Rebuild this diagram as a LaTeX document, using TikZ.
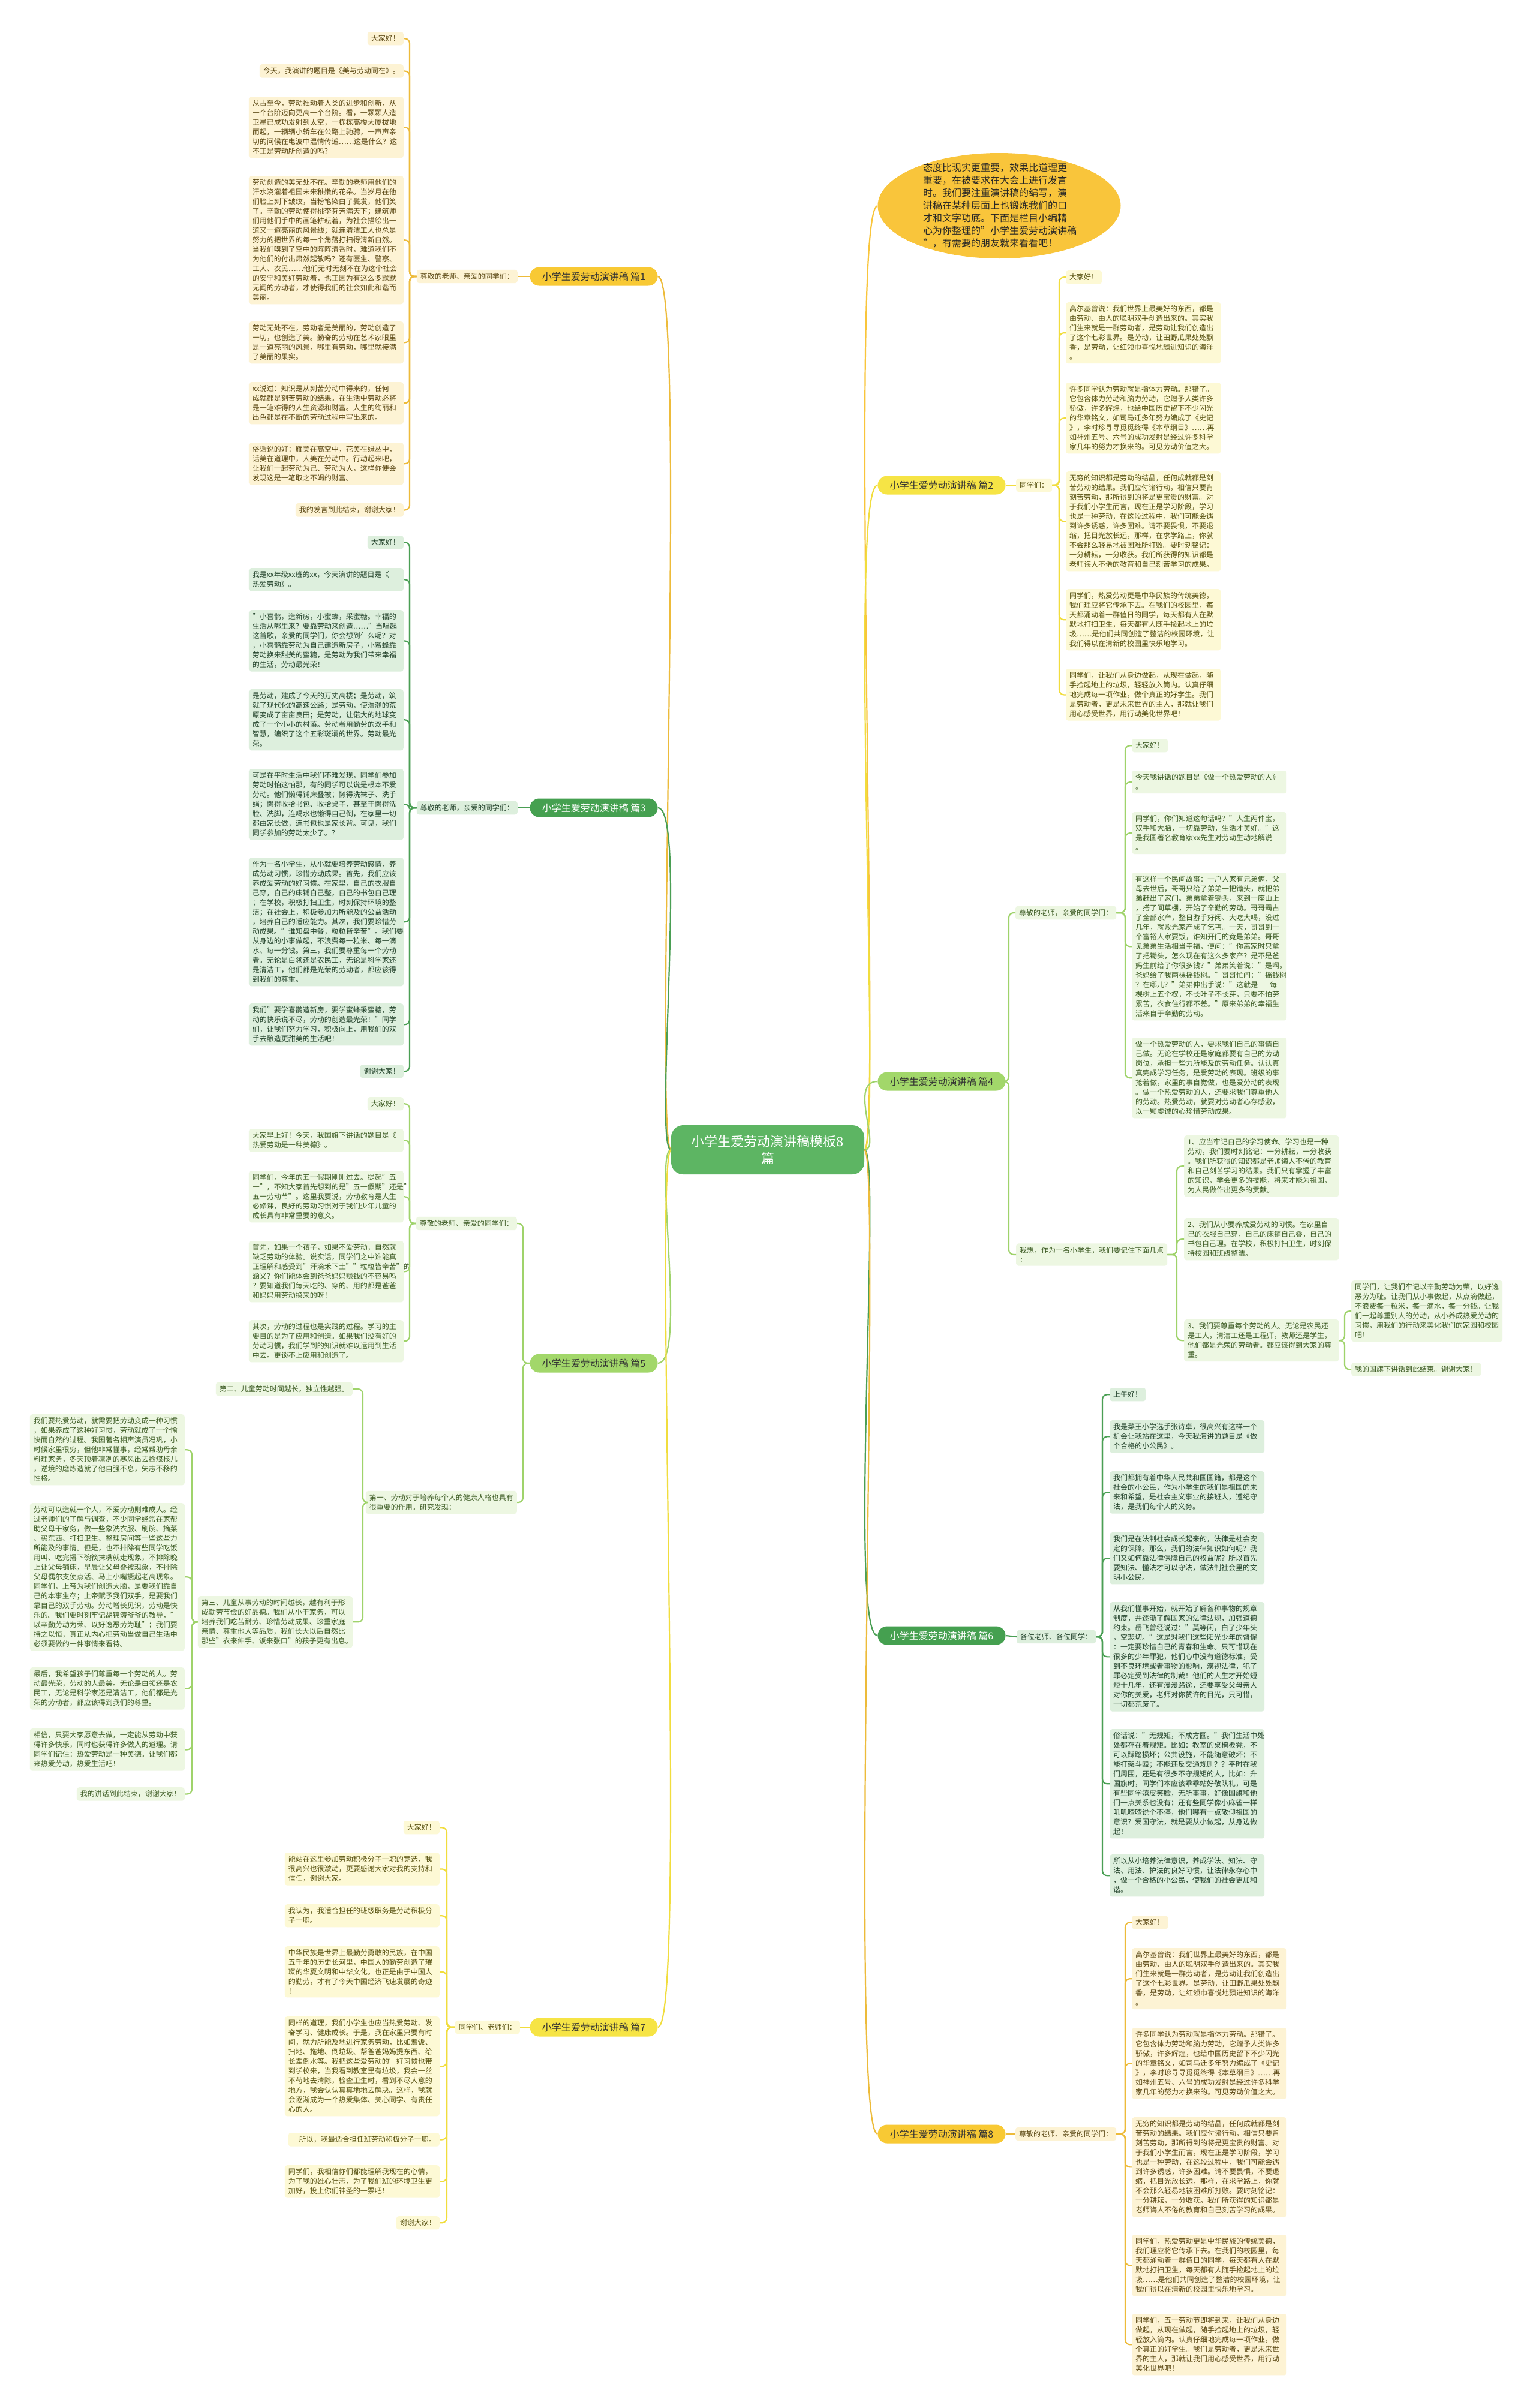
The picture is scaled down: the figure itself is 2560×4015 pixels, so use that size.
\documentclass[tikz,border=0pt]{standalone}
\usepackage{fontspec}
\setmainfont{Noto Sans CJK SC}
\usetikzlibrary{shapes.geometric}
\definecolor{goldline}{HTML}{EDBB3A}
\definecolor{goldnode}{HTML}{F8C934}
\definecolor{goldbox}{HTML}{FDF3D4}
\definecolor{goldtext}{HTML}{5A4713}
\definecolor{yelline}{HTML}{F1DD3D}
\definecolor{yelnode}{HTML}{F6E445}
\definecolor{yelbox}{HTML}{FDF9D5}
\definecolor{yeltext}{HTML}{56500F}
\definecolor{dgline}{HTML}{4A9F54}
\definecolor{dgnode}{HTML}{45A050}
\definecolor{dgbox}{HTML}{DDEFDD}
\definecolor{dgtext}{HTML}{22422A}
\definecolor{lgline}{HTML}{9FD36B}
\definecolor{lgnode}{HTML}{A2D76A}
\definecolor{lgbox}{HTML}{EDF7E2}
\definecolor{lgtext}{HTML}{3B5A22}
\definecolor{rootc}{HTML}{5DB563}
\definecolor{bubc}{HTML}{F9C53B}
\newcommand\fs[2]{\fontsize{#1}{#2}\selectfont}
\newcommand\lconn[4]{\coordinate (tk) at (#2,0);\draw[#1] (#3.west) -- (#3.west -| tk) |- (#4.east);}
\newcommand\rconn[4]{\coordinate (tk) at (#2,0);\draw[#1] (#3.east) -- (#3.east -| tk) |- (#4.west);}
\tikzset{
  box/.style={rounded corners=4pt, inner xsep=6pt, inner ysep=5.5pt, align=left, font=\fs{12}{16}},
  wide/.style={text width=246pt},
  gb/.style={box, fill=goldbox, text=goldtext},
  yb/.style={box, fill=yelbox, text=yeltext},
  db/.style={box, fill=dgbox, text=dgtext},
  lb/.style={box, fill=lgbox, text=lgtext},
  con/.style={line width=2.2pt, rounded corners=8pt},
  gc/.style={con, draw=goldline},
  yc/.style={con, draw=yelline},
  dc/.style={con, draw=dgline},
  lc/.style={con, draw=lgline},
  branch/.style={rounded corners=15.5pt, minimum width=213pt, minimum height=31pt, inner sep=0pt, font=\fs{16}{20}, text=black!80},
  rootnode/.style={rounded corners=20pt, minimum width=322pt, minimum height=82pt, fill=rootc, text=white, align=center, font=\fs{22}{28}},
  curve/.style={line width=2.2pt},
}
\begin{document}
\begin{tikzpicture}[x=1pt,y=-1pt]
\useasboundingbox (0,0) rectangle (2560,4015);
\fill[white] (0,0) rectangle (2560,4015);

% ---------- root and branches ----------
\node[rootnode] (C) at (1280,1917) {小学生爱劳动演讲稿模板8\\篇};
\node[ellipse, fill=bubc, minimum width=405pt, minimum height=176pt, inner sep=0pt] (bub) at (1666,343) {};
\node[align=left, font=\fs{16}{21}, text=black!85] (bubt) at (1667,343) {态度比现实更重要，效果比道理更\\重要，在被要求在大会上进行发言\\时。我们要注重演讲稿的编写，演\\讲稿在某种层面上也锻炼我们的口\\才和文字功底。下面是栏目小编精\\心为你整理的"小学生爱劳动演讲稿\\"，有需要的朋友就来看看吧！};

\node[branch, fill=goldnode] (b1) at (990,461) {小学生爱劳动演讲稿 篇1};
\node[branch, fill=dgnode, text=white] (b3) at (990,1347) {小学生爱劳动演讲稿 篇3};
\node[branch, fill=lgnode] (b5) at (990,2273) {小学生爱劳动演讲稿 篇5};
\node[branch, fill=yelnode] (b7) at (990,3380) {小学生爱劳动演讲稿 篇7};
\node[branch, fill=yelnode] (b2) at (1570,809) {小学生爱劳动演讲稿 篇2};
\node[branch, fill=lgnode] (b4) at (1570,1803) {小学生爱劳动演讲稿 篇4};
\node[branch, fill=dgnode, text=white] (b6) at (1570,2727) {小学生爱劳动演讲稿 篇6};
\node[branch, fill=goldnode] (b8) at (1570,3558) {小学生爱劳动演讲稿 篇8};

\draw[curve, goldline] (C.west) .. controls +(-30,0) and +(50,0) .. (b1.east);
\draw[curve, dgline] (C.west) .. controls +(-30,0) and +(50,0) .. (b3.east);
\draw[curve, lgline] (C.west) .. controls +(-30,0) and +(50,0) .. (b5.east);
\draw[curve, yelline] (C.west) .. controls +(-30,0) and +(50,0) .. (b7.east);
\draw[curve, bubc] (C.east) .. controls +(30,0) and +(-50,0) .. (bub.west);
\draw[curve, yelline] (C.east) .. controls +(30,0) and +(-50,0) .. (b2.west);
\draw[curve, lgline] (C.east) .. controls +(30,0) and +(-50,0) .. (b4.west);
\draw[curve, dgline] (C.east) .. controls +(30,0) and +(-50,0) .. (b6.west);
\draw[curve, goldline] (C.east) .. controls +(30,0) and +(-50,0) .. (b8.west);

% ---------- 篇1 ----------
\node[gb, anchor=east] (L1) at (863,461) {尊敬的老师、亲爱的同学们：};
\draw[gc] (b1.west) -- (L1.east);
\node[gb, anchor=north east] (a1) at (673,53) {大家好！};
\node[gb, anchor=north east] (a2) at (673,107) {今天，我演讲的题目是《美与劳动同在》。};
\node[gb, wide, anchor=north east] (a3) at (673,161) {从古至今，劳动推动着人类的进步和创新，从\\一个台阶迈向更高一个台阶。看，一颗颗人造\\卫星已成功发射到太空，一栋栋高楼大厦拔地\\而起，一辆辆小轿车在公路上驰骋，一声声亲\\切的问候在电波中温情传递……这是什么？这\\不正是劳动所创造的吗？};
\node[gb, wide, anchor=north east] (a4) at (673,293) {劳动创造的美无处不在。辛勤的老师用他们的\\汗水浇灌着祖国未来稚嫩的花朵。当岁月在他\\们脸上刻下皱纹，当粉笔染白了鬓发，他们笑\\了。辛勤的劳动使得桃李芬芳满天下；建筑师\\们用他们手中的画笔耕耘着，为社会描绘出一\\道又一道亮丽的风景线；就连清洁工人也总是\\努力的把世界的每一个角落打扫得清新自然。\\当我们嗅到了空中的阵阵清香时，难道我们不\\为他们的付出肃然起敬吗？还有医生、警察、\\工人、农民……他们无时无刻不在为这个社会\\的安宁和美好劳动着，也正因为有这么多默默\\无闻的劳动者，才使得我们的社会如此和谐而\\美丽。};
\node[gb, wide, anchor=north east] (a5) at (673,536) {劳动无处不在，劳动者是美丽的，劳动创造了\\一切，也创造了美。勤奋的劳动在艺术家眼里\\是一道亮丽的风景，哪里有劳动，哪里就接满\\了美丽的果实。};
\node[gb, wide, anchor=north east] (a6) at (673,637) {xx说过：知识是从刻苦劳动中得来的，任何\\成就都是刻苦劳动的结果。在生活中劳动必将\\是一笔难得的人生资源和财富。人生的绚丽和\\出色都是在不断的劳动过程中写出来的。};
\node[gb, wide, anchor=north east] (a7) at (673,738) {俗话说的好：雁美在高空中，花美在绿丛中，\\话美在道理中，人美在劳动中。行动起来吧，\\让我们一起劳动为己、劳动为人，这样你便会\\发现这是一笔取之不竭的财富。};
\node[gb, anchor=north east] (a8) at (673,839) {我的发言到此结束，谢谢大家！};
\foreach \c in {a1,a2,a3,a4,a5,a6,a7,a8} {\lconn{gc}{683}{L1}{\c}}

% ---------- 篇3 ----------
\node[db, anchor=east] (L3) at (863,1347) {尊敬的老师，亲爱的同学们：};
\draw[dc] (b3.west) -- (L3.east);
\node[db, anchor=north east] (c1) at (673,893) {大家好！};
\node[db, wide, anchor=north east] (c2) at (673,947) {我是xx年级xx班的xx，今天演讲的题目是《\\热爱劳动》。};
\node[db, wide, anchor=north east] (c3) at (673,1017) {"小喜鹊，造新房，小蜜蜂，采蜜糖。幸福的\\生活从哪里来？要靠劳动来创造……"当唱起\\这首歌，亲爱的同学们，你会想到什么呢？对\\，小喜鹊靠劳动为自己建造新房子，小蜜蜂靠\\劳动换来甜美的蜜糖，是劳动为我们带来幸福\\的生活，劳动最光荣！};
\node[db, wide, anchor=north east] (c4) at (673,1149) {是劳动，建成了今天的万丈高楼；是劳动，筑\\就了现代化的高速公路；是劳动，使浩瀚的荒\\原变成了亩亩良田；是劳动，让偌大的地球变\\成了一个小小的村落。劳动者用勤劳的双手和\\智慧，编织了这个五彩斑斓的世界。劳动最光\\荣。};
\node[db, wide, anchor=north east] (c5) at (673,1282) {可是在平时生活中我们不难发现，同学们参加\\劳动时怕这怕那，有的同学可以说是根本不爱\\劳动。他们懒得铺床叠被；懒得洗袜子、洗手\\绢；懒得收拾书包、收拾桌子，甚至于懒得洗\\脸、洗脚，连喝水也懒得自己倒，在家里一切\\都由家长做，连书包也是家长背。可见，我们\\同学参加的劳动太少了。？};
\node[db, wide, anchor=north east] (c6) at (673,1430) {作为一名小学生，从小就要培养劳动感情，养\\成劳动习惯，珍惜劳动成果。首先，我们应该\\养成爱劳动的好习惯。在家里，自己的衣服自\\己穿，自己的床铺自己整，自己的书包自己理\\；在学校，积极打扫卫生，时刻保持环境的整\\洁；在社会上，积极参加力所能及的公益活动\\，培养自己的适应能力。其次，我们要珍惜劳\\动成果。"谁知盘中餐，粒粒皆辛苦"。我们要\\从身边的小事做起，不浪费每一粒米、每一滴\\水、每一分钱。第三，我们要尊重每一个劳动\\者。无论是白领还是农民工，无论是科学家还\\是清洁工，他们都是光荣的劳动者，都应该得\\到我们的尊重。};
\node[db, wide, anchor=north east] (c7) at (673,1673) {我们"要学喜鹊造新房，要学蜜蜂采蜜糖，劳\\动的快乐说不尽，劳动的创造最光荣！"同学\\们，让我们努力学习，积极向上，用我们的双\\手去酿造更甜美的生活吧！};
\node[db, anchor=north east] (c8) at (673,1775) {谢谢大家！};
\foreach \c in {c1,c2,c3,c4,c5,c6,c7,c8} {\lconn{dc}{683}{L3}{\c}}

% ---------- 篇5 ----------
\node[lb, anchor=east] (L5a) at (862,2040) {尊敬的老师、亲爱的同学们：};
\node[lb, anchor=east, align=left] (L5b) at (862,2505) {第一、劳动对于培养每个人的健康人格也具有\\很重要的作用。研究发现：};
\lconn{lc}{872}{b5}{L5a}
\lconn{lc}{872}{b5}{L5b}
\node[lb, anchor=north east] (e1) at (673,1829) {大家好！};
\node[lb, wide, anchor=north east] (e2) at (673,1882) {大家早上好！今天，我国旗下讲话的题目是《\\热爱劳动是一种美德》。};
\node[lb, wide, anchor=north east] (e3) at (673,1952) {同学们，今年的五一假期刚刚过去。提起"五\\一"，不知大家首先想到的是"五一假期"还是"\\五一劳动节"。这里我要说，劳动教育是人生\\必修课，良好的劳动习惯对于我们少年儿童的\\成长具有非常重要的意义。};
\node[lb, wide, anchor=north east] (e4) at (673,2069) {首先，如果一个孩子，如果不爱劳动，自然就\\缺乏劳动的体验。说实话，同学们之中谁能真\\正理解和感受到"汗滴禾下土""粒粒皆辛苦"的\\涵义？你们能体会到爸爸妈妈赚钱的不容易吗\\？要知道我们每天吃的、穿的、用的都是爸爸\\和妈妈用劳动换来的呀！};
\node[lb, wide, anchor=north east] (e5) at (673,2201) {其次，劳动的过程也是实践的过程。学习的主\\要目的是为了应用和创造。如果我们没有好的\\劳动习惯，我们学到的知识就难以运用到生活\\中去。更谈不上应用和创造了。};
\foreach \c in {e1,e2,e3,e4,e5} {\lconn{lc}{683}{L5a}{\c}}
\node[lb, anchor=east] (f2) at (588,2316) {第二、儿童劳动时间越长，独立性越强。};
\node[lb, wide, anchor=north east] (f3) at (588,2661) {第三、儿童从事劳动的时间越长，越有利于形\\成勤劳节俭的好品德。我们从小干家务，可以\\培养我们吃苦耐劳、珍惜劳动成果、珍重家庭\\亲情、尊重他人等品质，我们长大以后自然比\\那些"衣来伸手、饭来张口"的孩子更有出息。};
\lconn{lc}{605}{L5b}{f2}
\lconn{lc}{605}{L5b}{f3}
\node[lb, wide, anchor=north east] (g1) at (308,2358) {我们要热爱劳动，就需要把劳动变成一种习惯\\，如果养成了这种好习惯，劳动就成了一个愉\\快而自然的过程。我国著名相声演员冯巩，小\\时候家里很穷，但他非常懂事，经常帮助母亲\\料理家务，冬天顶着凛冽的寒风出去捡煤核儿\\，逆境的磨炼造就了他自强不息，矢志不移的\\性格。};
\node[lb, wide, anchor=north east] (g2) at (308,2506) {劳动可以造就一个人，不爱劳动则难成人。经\\过老师们的了解与调查，不少同学经常在家帮\\助父母干家务，做一些象洗衣服、刷碗、摘菜\\、买东西、打扫卫生、整理房间等一些这些力\\所能及的事情。但是，也不排除有些同学吃饭\\用叫、吃完撂下碗筷抹嘴就走现象，不排除晚\\上让父母铺床，早晨让父母叠被现象，不排除\\父母偶尔支使点活、马上小嘴撅起老高现象。\\同学们，上帝为我们创造大脑，是要我们靠自\\己的本事生存；上帝赋予我们双手，是要我们\\靠自己的双手劳动。劳动增长见识，劳动是快\\乐的。我们要时刻牢记胡锦涛爷爷的教导，"\\以辛勤劳动为荣、以好逸恶劳为耻"；我们要\\持之以恒，真正从内心把劳动当做自己生活中\\必须要做的一件事情来看待。};
\node[lb, wide, anchor=north east] (g3) at (308,2780) {最后，我希望孩子们尊重每一个劳动的人。劳\\动最光荣，劳动的人最美。无论是白领还是农\\民工，无论是科学家还是清洁工，他们都是光\\荣的劳动者，都应该得到我们的尊重。};
\node[lb, wide, anchor=north east] (g4) at (308,2882) {相信，只要大家愿意去做，一定能从劳动中获\\得许多快乐，同时也获得许多做人的道理。请\\同学们记住：热爱劳动是一种美德。让我们都\\来热爱劳动，热爱生活吧！};
\node[lb, anchor=north east] (g5) at (308,2980) {我的讲话到此结束，谢谢大家！};
\foreach \c in {g1,g2,g3,g4,g5} {\lconn{lc}{320}{f3}{\c}}

% ---------- 篇7 ----------
\node[yb, anchor=east] (L7) at (867,3380) {同学们、老师们：};
\draw[yc] (b7.west) -- (L7.east);
\node[yb, anchor=north east] (h1) at (733,3036) {大家好！};
\node[yb, wide, anchor=north east] (h2) at (733,3089) {能站在这里参加劳动积极分子一职的竞选，我\\很高兴也很激动，更要感谢大家对我的支持和\\信任，谢谢大家。};
\node[yb, wide, anchor=north east] (h3) at (733,3175) {我认为，我适合担任的班级职务是劳动积极分\\子一职。};
\node[yb, wide, anchor=north east] (h4) at (733,3245) {中华民族是世界上最勤劳勇敢的民族，在中国\\五千年的历史长河里，中国人的勤劳创造了璀\\璨的华夏文明和中华文化。也正是由于中国人\\的勤劳，才有了今天中国经济飞速发展的奇迹\\！};
\node[yb, wide, anchor=north east] (h5) at (733,3362) {同样的道理，我们小学生也应当热爱劳动、发\\奋学习、健康成长。于是，我在家里只要有时\\间，就力所能及地进行家务劳动，比如煮饭、\\扫地、拖地、倒垃圾、帮爸爸妈妈提东西、给\\长辈倒水等。我把这些爱劳动的'好习惯也带\\到学校来，当我看到教室里有垃圾，我会一丝\\不苟地去清除，检查卫生时，看到不尽人意的\\地方，我会认认真真地地去解决。这样，我就\\会逐渐成为一个热爱集体、关心同学、有责任\\心的人。};
\node[yb, anchor=north east] (h6) at (733,3556) {\hspace*{12pt}所以，我最适合担任班劳动积极分子一职。};
\node[yb, wide, anchor=north east] (h7) at (733,3610) {同学们，我相信你们都能理解我现在的心情，\\为了我的雄心壮志，为了我们班的环境卫生更\\加好，投上你们神圣的一票吧！};
\node[yb, anchor=north east] (h8) at (733,3695) {谢谢大家！};
\foreach \c in {h1,h2,h3,h4,h5,h6,h7,h8} {\lconn{yc}{745}{L7}{\c}}

% ---------- 篇2 ----------
\node[yb, anchor=west] (L2) at (1694,809) {同学们：};
\draw[yc] (b2.east) -- (L2.west);
\node[yb, anchor=north west] (k1) at (1777,451) {大家好！};
\node[yb, wide, anchor=north west] (k2) at (1777,504) {高尔基曾说：我们世界上最美好的东西，都是\\由劳动、由人的聪明双手创造出来的。其实我\\们生来就是一群劳动者，是劳动让我们创造出\\了这个七彩世界。是劳动，让田野瓜果处处飘\\香，是劳动，让红领巾喜悦地飘进知识的海洋\\。};
\node[yb, wide, anchor=north west] (k3) at (1777,638) {许多同学认为劳动就是指体力劳动。那错了。\\它包含体力劳动和脑力劳动，它赠予人类许多\\骄傲，许多辉煌，也给中国历史留下不少闪光\\的华章铭文，如司马迁多年努力编成了《史记\\》，李时珍寻寻觅觅终得《本草纲目》……再\\如神州五号、六号的成功发射是经过许多科学\\家几年的努力才换来的。可见劳动价值之大。};
\node[yb, wide, anchor=north west] (k4) at (1777,786) {无穷的知识都是劳动的结晶，任何成就都是刻\\苦劳动的结果。我们应付诸行动，相信只要肯\\刻苦劳动，那所得到的将是更宝贵的财富。对\\于我们小学生而言，现在正是学习阶段，学习\\也是一种劳动，在这段过程中，我们可能会遇\\到许多诱惑，许多困难。请不要畏惧，不要退\\缩，把目光放长远，那样，在求学路上，你就\\不会那么轻易地被困难所打败。要时刻铭记：\\一分耕耘，一分收获。我们所获得的知识都是\\老师诲人不倦的教育和自己刻苦学习的成果。};
\node[yb, wide, anchor=north west] (k5) at (1777,982) {同学们，热爱劳动更是中华民族的传统美德，\\我们理应将它传承下去。在我们的校园里，每\\天都涌动着一群值日的同学，每天都有人在默\\默地打扫卫生，每天都有人随手捡起地上的垃\\圾……是他们共同创造了整洁的校园环境，让\\我们得以在清新的校园里快乐地学习。};
\node[yb, wide, anchor=north west] (k6) at (1777,1115) {同学们，让我们从身边做起，从现在做起，随\\手捡起地上的垃圾，轻轻放入筒内。认真仔细\\地完成每一项作业，做个真正的好学生。我们\\是劳动者，更是未来世界的主人，那就让我们\\用心感受世界，用行动美化世界吧！};
\foreach \c in {k1,k2,k3,k4,k5,k6} {\rconn{yc}{1766}{L2}{\c}}

% ---------- 篇4 ----------
\node[lb, anchor=west] (L4a) at (1693,1522) {尊敬的老师，亲爱的同学们：};
\node[lb, anchor=west, align=left] (L4b) at (1694,2092) {我想，作为一名小学生，我们要记住下面几点\\：};
\rconn{lc}{1682}{b4}{L4a}
\rconn{lc}{1682}{b4}{L4b}
\node[lb, anchor=north west] (m1) at (1887,1232) {大家好！};
\node[lb, wide, anchor=north west] (m2) at (1887,1285) {今天我讲话的题目是《做一个热爱劳动的人》\\。};
\node[lb, wide, anchor=north west] (m3) at (1887,1354) {同学们，你们知道这句话吗？"人生两件宝，\\双手和大脑，一切靠劳动，生活才美好。"这\\是我国著名教育家xx先生对劳动生动地解说\\。};
\node[lb, wide, anchor=north west] (m4) at (1887,1455) {有这样一个民间故事：一户人家有兄弟俩，父\\母去世后，哥哥只给了弟弟一把锄头，就把弟\\弟赶出了家门。弟弟拿着锄头，来到一座山上\\，搭了间草棚，开始了辛勤的劳动。哥哥霸占\\了全部家产，整日游手好闲、大吃大喝，没过\\几年，就败光家产成了乞丐。一天，哥哥到一\\个富裕人家要饭，谁知开门的竟是弟弟。哥哥\\见弟弟生活相当幸福，便问："你离家时只拿\\了把锄头，怎么现在有这么多家产？是不是爸\\妈生前给了你很多钱？"弟弟笑着说："是啊，\\爸妈给了我两棵摇钱树。"哥哥忙问："摇钱树\\？在哪儿？"弟弟伸出手说："这就是——每\\棵树上五个杈，不长叶子不长芽，只要不怕劳\\累苦，衣食住行都不差。"原来弟弟的幸福生\\活来自于辛勤的劳动。};
\node[lb, wide, anchor=north west] (m5) at (1887,1730) {做一个热爱劳动的人，要求我们自己的事情自\\己做。无论在学校还是家庭都要有自己的劳动\\岗位，承担一些力所能及的劳动任务。认认真\\真完成学习任务，是爱劳动的表现。班级的事\\抢着做，家里的事自觉做，也是爱劳动的表现\\。做一个热爱劳动的人，还要求我们尊重他人\\的劳动。热爱劳动，就要对劳动者心存感激，\\以一颗虔诚的心珍惜劳动成果。};
\foreach \c in {m1,m2,m3,m4,m5} {\rconn{lc}{1876}{L4a}{\c}}
\node[lb, wide, anchor=north west] (n1) at (1974,1893) {1、应当牢记自己的学习使命。学习也是一种\\劳动，我们要时刻铭记：一分耕耘，一分收获\\。我们所获得的知识都是老师诲人不倦的教育\\和自己刻苦学习的结果。我们只有掌握了丰富\\的知识，学会更多的技能，将来才能为祖国，\\为人民做作出更多的贡献。};
\node[lb, wide, anchor=north west] (n2) at (1974,2031) {2、我们从小要养成爱劳动的习惯。在家里自\\己的衣服自己穿，自己的床铺自己叠，自己的\\书包自己理。在学校，积极打扫卫生，时刻保\\持校园和班级整洁。};
\node[lb, wide, anchor=north west] (n3) at (1974,2200) {3、我们要尊重每个劳动的人。无论是农民还\\是工人，清洁工还是工程师，教师还是学生，\\他们都是光荣的劳动者。都应该得到大家的尊\\重。};
\foreach \c in {n1,n2,n3} {\rconn{lc}{1962}{L4b}{\c}}
\node[lb, anchor=north west, align=left] (p1) at (2253,2135) {同学们，让我们牢记以辛勤劳动为荣，以好逸\\恶劳为耻。让我们从小事做起，从点滴做起，\\不浪费每一粒米，每一滴水，每一分钱。让我\\们一起尊重别人的劳动，从小养成热爱劳动的\\习惯，用我们的行动来美化我们的家园和校园\\吧！};
\node[lb, anchor=north west] (p2) at (2253,2272) {我的国旗下讲话到此结束。谢谢大家！};
\foreach \c in {p1,p2} {\rconn{lc}{2242}{n3}{\c}}

% ---------- 篇6 ----------
\node[db, anchor=west] (L6) at (1695,2729) {各位老师、各位同学：};
\draw[dc] (b6.east) -- (L6.west);
\node[db, anchor=north west] (q1) at (1850,2314) {上午好！};
\node[db, wide, anchor=north west] (q2) at (1850,2368) {我是菜王小学选手张诗卓，很高兴有这样一个\\机会让我站在这里，今天我演讲的题目是《做\\个合格的小公民》。};
\node[db, wide, anchor=north west] (q3) at (1850,2453) {我们都拥有着中华人民共和国国籍，都是这个\\社会的小公民，作为小学生的我们是祖国的未\\来和希望，是社会主义事业的接班人，遵纪守\\法，是我们每个人的义务。};
\node[db, wide, anchor=north west] (q4) at (1850,2555) {我们是在法制社会成长起来的，法律是社会安\\定的保障。那么，我们的法律知识如何呢？我\\们又如何靠法律保障自己的权益呢？所以首先\\要知法、懂法才可以守法，做法制社会里的文\\明小公民。};
\node[db, wide, anchor=north west] (q5) at (1850,2671) {从我们懂事开始，就开始了解各种事物的规章\\制度，并逐渐了解国家的法律法规，加强道德\\约束。岳飞曾经说过："莫等闲，白了少年头\\，空悲切。"这是对我们这些阳光少年的督促\\：一定要珍惜自己的青春和生命。只可惜现在\\很多的少年罪犯，他们心中没有道德标准，受\\到不良环境或者事物的影响，漠视法律，犯了\\罪必定受到法律的制裁！他们的人生才开始短\\短十几年，还有漫漫路途，还要享受父母亲人\\对你的关爱，老师对你赞许的目光，只可惜，\\一切都荒废了。};
\node[db, wide, anchor=north west] (q6) at (1850,2883) {俗话说："无规矩，不成方圆。"我们生活中处\\处都存在着规矩。比如：教室的桌椅板凳，不\\可以踩踏损坏；公共设施，不能随意破坏；不\\能打架斗殴；不能违反交通规则？？平时在我\\们周围，还是有很多不守规矩的人，比如：升\\国旗时，同学们本应该乖乖站好敬队礼，可是\\有些同学嬉皮笑脸，无所事事，好像国旗和他\\们一点关系也没有；还有些同学像小麻雀一样\\叽叽喳喳说个不停，他们哪有一点敬仰祖国的\\意识？爱国守法，就是要从小做起，从身边做\\起！};
\node[db, wide, anchor=north west] (q7) at (1850,3092) {所以从小培养法律意识，养成学法、知法、守\\法、用法、护法的良好习惯，让法律永存心中\\，做一个合格的小公民，使我们的社会更加和\\谐。};
\foreach \c in {q1,q2,q3,q4,q5,q6,q7} {\rconn{dc}{1838}{L6}{\c}}

% ---------- 篇8 ----------
\node[gb, anchor=west] (L8) at (1693,3558) {尊敬的老师、亲爱的同学们：};
\draw[gc] (b8.east) -- (L8.west);
\node[gb, anchor=north west] (r1) at (1887,3194) {大家好！};
\node[gb, wide, anchor=north west] (r2) at (1887,3248) {高尔基曾说：我们世界上最美好的东西，都是\\由劳动、由人的聪明双手创造出来的。其实我\\们生来就是一群劳动者，是劳动让我们创造出\\了这个七彩世界。是劳动，让田野瓜果处处飘\\香，是劳动，让红领巾喜悦地飘进知识的海洋\\。};
\node[gb, wide, anchor=north west] (r3) at (1887,3381) {许多同学认为劳动就是指体力劳动。那错了。\\它包含体力劳动和脑力劳动，它赠予人类许多\\骄傲，许多辉煌，也给中国历史留下不少闪光\\的华章铭文，如司马迁多年努力编成了《史记\\》，李时珍寻寻觅觅终得《本草纲目》……再\\如神州五号、六号的成功发射是经过许多科学\\家几年的努力才换来的。可见劳动价值之大。};
\node[gb, wide, anchor=north west] (r4) at (1887,3530) {无穷的知识都是劳动的结晶，任何成就都是刻\\苦劳动的结果。我们应付诸行动，相信只要肯\\刻苦劳动，那所得到的将是更宝贵的财富。对\\于我们小学生而言，现在正是学习阶段，学习\\也是一种劳动，在这段过程中，我们可能会遇\\到许多诱惑，许多困难。请不要畏惧，不要退\\缩，把目光放长远，那样，在求学路上，你就\\不会那么轻易地被困难所打败。要时刻铭记：\\一分耕耘，一分收获。我们所获得的知识都是\\老师诲人不倦的教育和自己刻苦学习的成果。};
\node[gb, wide, anchor=north west] (r5) at (1887,3726) {同学们，热爱劳动更是中华民族的传统美德，\\我们理应将它传承下去。在我们的校园里，每\\天都涌动着一群值日的同学，每天都有人在默\\默地打扫卫生，每天都有人随手捡起地上的垃\\圾……是他们共同创造了整洁的校园环境，让\\我们得以在清新的校园里快乐地学习。};
\node[gb, wide, anchor=north west] (r6) at (1887,3858) {同学们，五一劳动节即将到来，让我们从身边\\做起，从现在做起，随手捡起地上的垃圾，轻\\轻放入筒内。认真仔细地完成每一项作业，做\\个真正的好学生。我们是劳动者，更是未来世\\界的主人，那就让我们用心感受世界，用行动\\美化世界吧！};
\foreach \c in {r1,r2,r3,r4,r5,r6} {\rconn{gc}{1876}{L8}{\c}}
\end{tikzpicture}
\end{document}
